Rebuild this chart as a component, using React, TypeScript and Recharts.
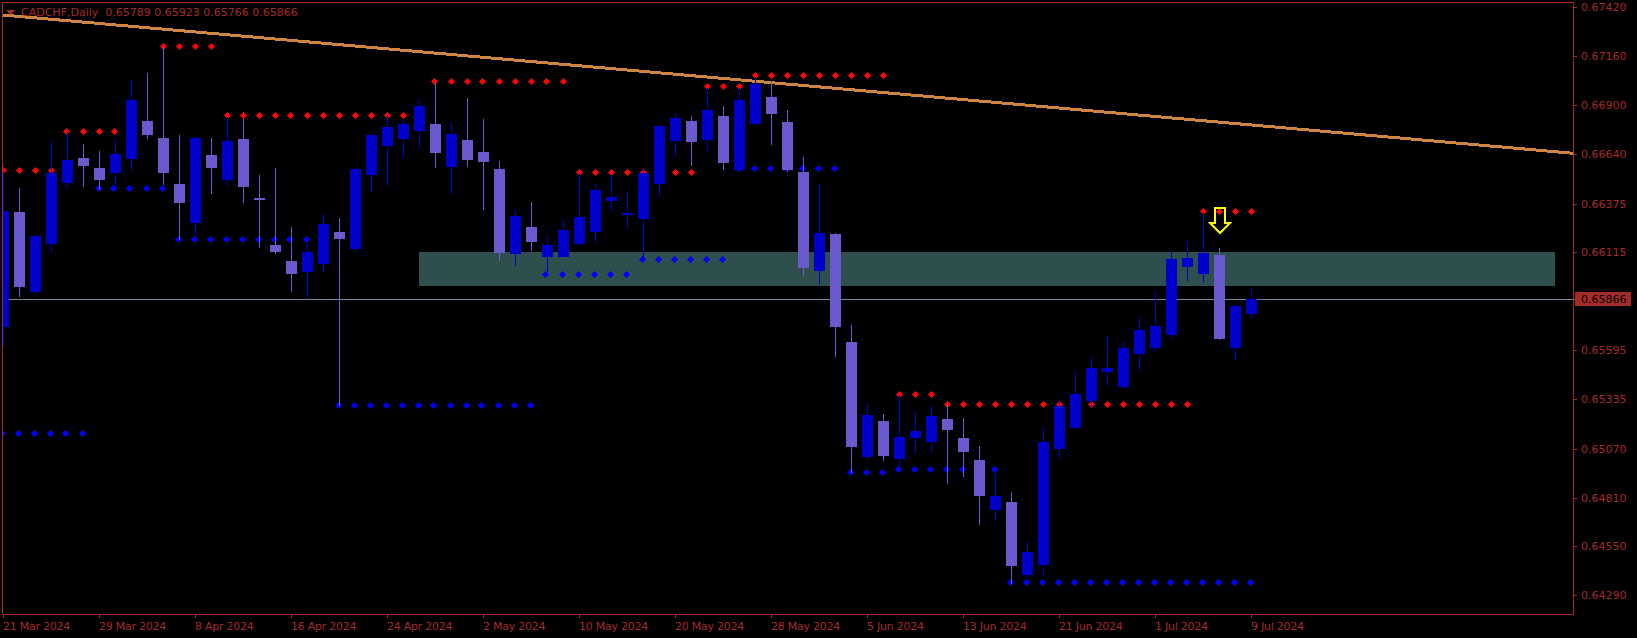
import { Bar, ComposedChart, Line, ReferenceArea, ReferenceDot, ReferenceLine, XAxis, YAxis } from 'recharts';

const opens = [
  0.65718, 0.66330, 0.65904, 0.66160, 0.66485, 0.66618, 0.66565, 0.66538, 0.66613, 0.66815,
  0.66724, 0.66480, 0.66272, 0.66634, 0.66501, 0.66719, 0.66405, 0.66155, 0.66070, 0.66011,
  0.66054, 0.66224, 0.66134, 0.66527, 0.66682, 0.66719, 0.66762, 0.66799, 0.66570, 0.66714,
  0.66650, 0.66559, 0.66107, 0.66251, 0.66091, 0.66091, 0.66160, 0.66224, 0.66389, 0.66315,
  0.66293, 0.66480, 0.66709, 0.66815, 0.66714, 0.66842, 0.66554, 0.66799, 0.66943, 0.66810,
  0.66543, 0.66016, 0.66213, 0.65638, 0.65026, 0.65218, 0.65016, 0.65127, 0.65106, 0.65228,
  0.65127, 0.65010, 0.64744, 0.64786, 0.64398, 0.64451, 0.65069, 0.65181, 0.65324, 0.65479,
  0.65399, 0.65575, 0.65607, 0.65676, 0.66038, 0.66000, 0.66102, 0.65607, 0.65789,
];
const closes = [
  0.66336, 0.65931, 0.66203, 0.66538, 0.66607, 0.66575, 0.66501, 0.66639, 0.66927, 0.66740,
  0.66538, 0.66378, 0.66724, 0.66565, 0.66709, 0.66464, 0.66394, 0.66117, 0.66000, 0.66117,
  0.66267, 0.66187, 0.66559, 0.66740, 0.66783, 0.66799, 0.66895, 0.66645, 0.66746, 0.66607,
  0.66597, 0.66112, 0.66309, 0.66171, 0.66155, 0.66235, 0.66304, 0.66448, 0.66410, 0.66325,
  0.66538, 0.66788, 0.66831, 0.66703, 0.66873, 0.66591, 0.66927, 0.67012, 0.66852, 0.66554,
  0.66032, 0.66219, 0.65718, 0.65080, 0.65250, 0.65032, 0.65133, 0.65165, 0.65244, 0.65170,
  0.65053, 0.64819, 0.64819, 0.64446, 0.64520, 0.65106, 0.65298, 0.65362, 0.65500, 0.65500,
  0.65607, 0.65702, 0.65724, 0.66080, 0.66086, 0.66112, 0.65654, 0.65830, 0.65866,
];
const highs = [
  0.66549, 0.66458, 0.66208, 0.66709, 0.66756, 0.66693, 0.66655, 0.66714, 0.67038, 0.67070,
  0.67209, 0.66740, 0.66730, 0.66724, 0.66836, 0.66825, 0.66527, 0.66565, 0.66251, 0.66165,
  0.66320, 0.66299, 0.66570, 0.66746, 0.66847, 0.66820, 0.66927, 0.67022, 0.66810, 0.66937,
  0.66825, 0.66602, 0.66341, 0.66384, 0.66203, 0.66288, 0.66538, 0.66480, 0.66527, 0.66442,
  0.66554, 0.66794, 0.66857, 0.66842, 0.66991, 0.66895, 0.66991, 0.67049, 0.67028, 0.66873,
  0.66623, 0.66480, 0.66219, 0.65729, 0.65314, 0.65255, 0.65356, 0.65265, 0.65298, 0.65303,
  0.65234, 0.65085, 0.64957, 0.64840, 0.64574, 0.65181, 0.65319, 0.65479, 0.65559, 0.65670,
  0.65638, 0.65772, 0.65904, 0.66123, 0.66176, 0.66330, 0.66139, 0.65830, 0.65923,
];
const lows = [
  0.65617, 0.65878, 0.65888, 0.66112, 0.66458, 0.66464, 0.66448, 0.66458, 0.66549, 0.66719,
  0.66474, 0.66181, 0.66203, 0.66427, 0.66469, 0.66378, 0.66139, 0.66107, 0.65904, 0.65867,
  0.66011, 0.65298, 0.66117, 0.66432, 0.66469, 0.66618, 0.66671, 0.66565, 0.66427, 0.66570,
  0.66341, 0.66070, 0.66043, 0.66123, 0.66011, 0.66091, 0.66149, 0.66165, 0.66336, 0.66240,
  0.66075, 0.66410, 0.66623, 0.66575, 0.66655, 0.66554, 0.66549, 0.66799, 0.66687, 0.66543,
  0.65990, 0.65947, 0.65559, 0.64941, 0.65016, 0.65005, 0.64968, 0.65042, 0.65048, 0.64883,
  0.64920, 0.64664, 0.64686, 0.64351, 0.64382, 0.64398, 0.65016, 0.65176, 0.65292, 0.65409,
  0.65388, 0.65484, 0.65585, 0.65654, 0.65963, 0.65952, 0.65649, 0.65537, 0.65766,
];

// fractal levels, one value per bar
const resistance = [
  0.66552, 0.66552, 0.66552, 0.66552,
  0.66760, 0.66760, 0.66760, 0.66760, 0.66760, 0.66760,
  0.67212, 0.67212, 0.67212, 0.67212,
  0.66845, 0.66845, 0.66845, 0.66845, 0.66845, 0.66845, 0.66845, 0.66845, 0.66845, 0.66845, 0.66845, 0.66845, 0.66845,
  0.67026, 0.67026, 0.67026, 0.67026, 0.67026, 0.67026, 0.67026, 0.67026, 0.67026,
  0.66541, 0.66541, 0.66541, 0.66541, 0.66541, 0.66541, 0.66541, 0.66541,
  0.67000, 0.67000, 0.67000,
  0.67060, 0.67060, 0.67060, 0.67060, 0.67060, 0.67060, 0.67060, 0.67060, 0.67060,
  0.65360, 0.65360, 0.65360,
  0.65307, 0.65307, 0.65307, 0.65307, 0.65307, 0.65307, 0.65307, 0.65307, 0.65307, 0.65307, 0.65307, 0.65307, 0.65307, 0.65307, 0.65307, 0.65307,
  0.66334, 0.66334, 0.66334, 0.66334,
];
const support = [
  0.65152, 0.65152, 0.65152, 0.65152, 0.65152, 0.65152,
  0.66456, 0.66456, 0.66456, 0.66456, 0.66456,
  0.66185, 0.66185, 0.66185, 0.66185, 0.66185, 0.66185, 0.66185, 0.66185, 0.66185, 0.66185,
  0.65303, 0.65303, 0.65303, 0.65303, 0.65303, 0.65303, 0.65303, 0.65303, 0.65303, 0.65303, 0.65303, 0.65303, 0.65303,
  0.65999, 0.65999, 0.65999, 0.65999, 0.65999, 0.65999,
  0.66079, 0.66079, 0.66079, 0.66079, 0.66079, 0.66079,
  0.66563, 0.66563, 0.66563, 0.66563, 0.66563, 0.66563, 0.66563,
  0.64945, 0.64945, 0.64945,
  0.64961, 0.64961, 0.64961, 0.64961, 0.64961, 0.64961, 0.64961,
  0.64359, 0.64359, 0.64359, 0.64359, 0.64359, 0.64359, 0.64359, 0.64359, 0.64359, 0.64359, 0.64359, 0.64359, 0.64359, 0.64359, 0.64359, 0.64359,
];

const priceTicks = [0.6742, 0.6716, 0.669, 0.6664, 0.66375, 0.66115, 0.65866, 0.65595, 0.65335, 0.6507, 0.6481, 0.6455, 0.6429];
const dateTickBars = [0, 6, 12, 18, 24, 30, 36, 42, 48, 54, 60, 66, 72, 78];
const dateTickLabels = [
  '21 Mar 2024', '29 Mar 2024', '8 Apr 2024', '16 Apr 2024', '24 Apr 2024', '2 May 2024', '10 May 2024',
  '20 May 2024', '28 May 2024', '5 Jun 2024', '13 Jun 2024', '21 Jun 2024', '1 Jul 2024', '9 Jul 2024',
];

const bid = 0.65866;
const zone = { from: 25.97, to: 96.97, top: 0.66117, bottom: 0.65937 };
const trendStart = 0.67379;
const trendEnd = 0.66643;
const signal = { bar: 76, price: 0.66288 };

const xDomain = [-0.03125, 98.09375];
const yDomain = [0.641905, 0.67443];

const BULL = '#0000CD';
const BEAR = '#6A5ACD';
const FRAME = '#A52A2A';
const FONT = '"DejaVu Sans", sans-serif';

const rows = opens.map((open, i) => ({
  bar: i,
  open,
  close: closes[i],
  range: [lows[i], highs[i]],
  resistance: resistance[i],
  support: support[i],
}));

function Candle({ x, y, width, height, payload }: any) {
  const { open, close, range } = payload;
  const k = height / (range[1] - range[0]);
  const top = Math.round(y + (range[1] - Math.max(open, close)) * k);
  const bottom = Math.round(y + (range[1] - Math.min(open, close)) * k);
  const fill = close >= open ? BULL : BEAR;
  return (
    <g shapeRendering="crispEdges">
      <rect x={x + (width - 1) / 2} y={y} width={1} height={height} fill={fill} />
      <rect x={x} y={top} width={width} height={Math.max(bottom - top, 1)} fill={fill} />
    </g>
  );
}

function Diamond({ cx, cy, fill, shift }: any) {
  if (cy == null) return null;
  const x = Math.round(cx + shift) + 0.5;
  const y = Math.round(cy) + 0.5;
  return (
    <polygon
      points={`${x - 3.5},${y} ${x},${y - 3.5} ${x + 3.5},${y} ${x},${y + 3.5}`}
      fill={fill}
      shapeRendering="crispEdges"
    />
  );
}

function SignalArrow({ cx, cy }: any) {
  const x = Math.round(cx);
  const y = Math.round(cy);
  const points = [
    [-5, -12], [5, -12], [5, 3], [10, 3], [0, 13], [-10, 3], [-5, 3],
  ].map(([dx, dy]) => `${x + dx},${y + dy}`).join(' ');
  return <polygon points={points} fill="none" stroke="#FFFF00" strokeWidth={2} />;
}

function PriceTick({ x, y, payload }: any) {
  const isBid = payload.value === bid;
  const row = Math.round(y);
  return (
    <g shapeRendering="crispEdges">
      <rect x={x + 1} y={row} width={3} height={1} fill={FRAME} />
      {isBid && <rect x={x + 2} y={row - 7} width={56} height={14} fill={FRAME} />}
      <text x={x + 8} y={row + 4} fontFamily={FONT} fontSize={11} fill={isBid ? '#000000' : FRAME} shapeRendering="auto">
        {payload.value.toFixed(5)}
      </text>
    </g>
  );
}

function DateTick({ x, y, payload }: any) {
  const col = Math.floor(x);
  return (
    <g shapeRendering="crispEdges">
      <rect x={col} y={y + 1} width={1} height={3} fill={FRAME} />
      <text x={col} y={y + 16} fontFamily={FONT} fontSize={11} letterSpacing={-0.25} fill={FRAME} shapeRendering="auto">
        {dateTickLabels[dateTickBars.indexOf(payload.value)]}
      </text>
    </g>
  );
}

export default function App() {
  return (
    <div style={{ position: 'fixed', left: 0, top: 0, width: 1637, height: 638, background: '#000000', overflow: 'hidden' }}>
      <ComposedChart
        width={1637}
        height={638}
        data={rows}
        barSize={11}
        margin={{ top: 3, right: 0, bottom: 0, left: 3 }}
      >
        <XAxis
          dataKey="bar"
          type="number"
          domain={xDomain}
          allowDataOverflow
          ticks={dateTickBars}
          interval={0}
          height={24}
          axisLine={false}
          tickLine={false}
          tickSize={0}
          tickMargin={0}
          tick={DateTick}
        />
        <YAxis
          orientation="right"
          type="number"
          domain={yDomain}
          allowDataOverflow
          ticks={priceTicks}
          interval={0}
          width={64}
          axisLine={false}
          tickLine={false}
          tickSize={0}
          tickMargin={0}
          tick={PriceTick}
        />
        <ReferenceArea x1={zone.from} x2={zone.to} y1={zone.top} y2={zone.bottom} fill="#2F4F4F" fillOpacity={1} stroke="none" shapeRendering="crispEdges" />
        <ReferenceLine y={bid} stroke="#778899" strokeWidth={1} shapeRendering="crispEdges" />
        <ReferenceLine
          segment={[{ x: xDomain[0], y: trendStart }, { x: xDomain[1], y: trendEnd }]}
          stroke="#CD853F"
          strokeWidth={3}
          shapeRendering="crispEdges"
        />
        <Line
          dataKey="resistance"
          stroke="none"
          isAnimationActive={false}
          dot={(p: any) => <Diamond key={`r${p.index}`} cx={p.cx} cy={p.cy} fill="#FF0000" shift={-1} />}
        />
        <Line
          dataKey="support"
          stroke="none"
          isAnimationActive={false}
          dot={(p: any) => <Diamond key={`s${p.index}`} cx={p.cx} cy={p.cy} fill="#0000FF" shift={-2} />}
        />
        <Bar dataKey="range" shape={Candle} isAnimationActive={false} zIndex={1500} />
        <ReferenceDot x={signal.bar} y={signal.price} r={1} shape={SignalArrow} zIndex={1600} />
      </ComposedChart>
      <div
        style={{
          position: 'absolute',
          left: 2,
          top: 2,
          width: 1570,
          height: 611,
          border: `1px solid ${FRAME}`,
          pointerEvents: 'none',
        }}
      />
      <svg style={{ position: 'absolute', left: 6, top: 10 }} width={10} height={6}>
        <polygon points="0,0 9,0 4.5,5" fill={FRAME} />
      </svg>
      <div
        style={{
          position: 'absolute',
          left: 21,
          top: 5,
          fontFamily: FONT,
          fontSize: 11,
          lineHeight: '15px',
          color: FRAME,
          whiteSpace: 'pre',
        }}
      >
        CADCHF,Daily  0.65789 0.65923 0.65766 0.65866
      </div>
    </div>
  );
}
